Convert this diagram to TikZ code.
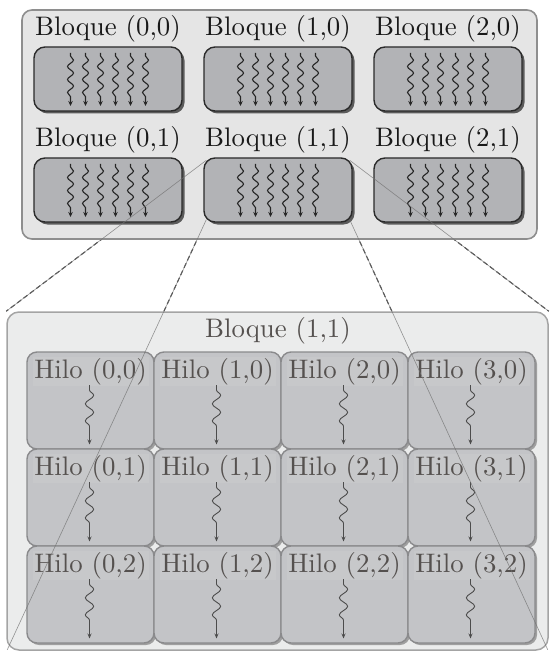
\documentclass[tikz,border=0pt]{standalone}
\usetikzlibrary{shadows,decorations.pathmorphing,arrows.meta,calc}

\definecolor{gridfill}{HTML}{E5E5E5}
\definecolor{gridline}{HTML}{8E8E8E}
\definecolor{blockfill}{HTML}{B2B3B6}
\definecolor{blockline}{HTML}{2A2A2A}
\definecolor{zoomfill}{HTML}{EBECEC}
\definecolor{zoomline}{HTML}{A4A4A4}
\definecolor{cellfill}{HTML}{C3C4C7}
\definecolor{cellline}{HTML}{8A8A8C}
\definecolor{bandfill}{HTML}{C7C8CA}
\definecolor{softtext}{HTML}{55514F}

% labels keep the 10pt design of Latin Modern, enlarged
\newcommand\biglabel[1]{\scalebox{2.68}{#1}}

\tikzset{
  gridbox/.style={draw=gridline, fill=gridfill, line width=1.6pt,
    rounded corners=10pt, inner sep=0pt},
  zoombox/.style={draw=zoomline, fill=zoomfill, line width=1.5pt,
    rounded corners=12pt, inner sep=0pt},
  block/.style={draw=blockline, fill=blockfill, line width=1.4pt,
    rounded corners=11pt, minimum width=148pt, minimum height=64pt,
    inner sep=0pt,
    drop shadow={shadow xshift=2.5pt, shadow yshift=-2.5pt,
      fill=black!70, opacity=0.9}},
  blocklabel/.style={font=\normalsize, text=black!90, inner sep=0pt},
  cell/.style={draw=cellline, fill=cellfill, line width=1.4pt,
    rounded corners=10pt, minimum width=127pt, minimum height=97pt,
    inner sep=0pt,
    drop shadow={shadow xshift=2pt, shadow yshift=-2pt,
      fill=black!45, opacity=0.8}},
  cellband/.style={fill=bandfill, minimum width=116pt, minimum height=29pt,
    inner sep=0pt, font=\normalsize, text=softtext},
  bthread/.style={draw=black!85, line width=1.1pt,
    -{Stealth[length=5pt,width=4.5pt]},
    decorate, decoration={snake, amplitude=3pt, segment length=13pt,
      pre length=3pt, post length=8pt}},
  hthread/.style={draw=black!70, line width=0.9pt,
    -{Stealth[length=5pt,width=4pt]},
    decorate, decoration={snake, amplitude=4.2pt, segment length=17pt,
      pre length=5pt, post length=16pt}},
  zoomdash/.style={draw=black!75, line width=1.1pt,
    dash pattern=on 5pt off 3pt},
  zoomthin/.style={draw=black!55, line width=0.6pt, opacity=0.75},
}

\begin{document}
\begin{tikzpicture}[x=1pt,y=-1pt]
\useasboundingbox (0,0) rectangle (549,655);

% the grid of blocks
\node[gridbox, minimum width=515pt, minimum height=229pt] (grid) at (279.5,124.5) {};

% outline of the zoomed block, used for the guide end points
\node[zoombox, minimum width=541pt, minimum height=338pt, fill=none, draw=none] (zoom) at (277.5,481) {};
\coordinate (znw) at (zoom.north west);
\coordinate (zne) at (zoom.north east);
\coordinate (zsw) at ($(zoom.south west)+(1,-1)$);
\coordinate (zse) at ($(zoom.south east)+(-1,-1)$);

% blocks with their threads
\foreach \c/\r in {0/0,1/0,2/0,0/1,1/1,2/1} {
  \pgfmathsetmacro\bx{108+170*\c}
  \pgfmathsetmacro\by{79+111*\r}
  \node[blocklabel] (lb\c\r) at (\bx,\by-50) {\biglabel{Bloque (\c,\r)}};
  \node[block] (b\c\r) at (\bx,\by) {};
  \foreach \dx in {-37.5,-22.5,-7.5,7.5,22.5,37.5}
    \draw[bthread] (\bx+\dx,\by-26) -- (\bx+\dx,\by+27);
}

% corners of the block that is zoomed in
\coordinate (cnw) at ($(b11.north west)+(3,3)$);
\coordinate (cne) at ($(b11.north east)+(-3,3)$);
\coordinate (csw) at ($(b11.south west)+(3,-3)$);
\coordinate (cse) at ($(b11.south east)+(-3,-3)$);

% dashed guides in the gap between the two boxes
\begin{scope}
  \clip (0,240) rectangle (549,313);
  \draw[zoomdash] (cnw) -- (znw);
  \draw[zoomdash] (cne) -- (zne);
  \draw[zoomdash] (csw) -- (zsw);
  \draw[zoomdash] (cse) -- (zse);
\end{scope}

% the zoomed block
\node[zoombox, minimum width=541pt, minimum height=338pt] (zoombg) at (277.5,481) {};
\node[font=\normalsize, text=softtext, inner sep=0pt]
  (ztitle) at (278,331) {\biglabel{Bloque (1,1)}};

% threads of the block
\foreach \c in {0,1,2,3} {
  \foreach \r in {0,1,2} {
    \pgfmathsetmacro\cx{90.5+127*\c}
    \pgfmathsetmacro\cy{400.5+97*\r}
    \node[cell] (h\c\r) at (\cx,\cy) {};
    \node[cellband] (lh\c\r) at (\cx,\cy-29) {\biglabel{Hilo (\c,\r)}};
    \draw[hthread] (\cx-1,\cy-15.5) -- (\cx-1,\cy+44);
  }
}

% thin guides drawn over everything
\draw[zoomthin] (cnw) -- (znw);
\draw[zoomthin] (cne) -- (zne);
\draw[zoomthin] (csw) -- (zsw);
\draw[zoomthin] (cse) -- (zse);
\end{tikzpicture}
\end{document}
